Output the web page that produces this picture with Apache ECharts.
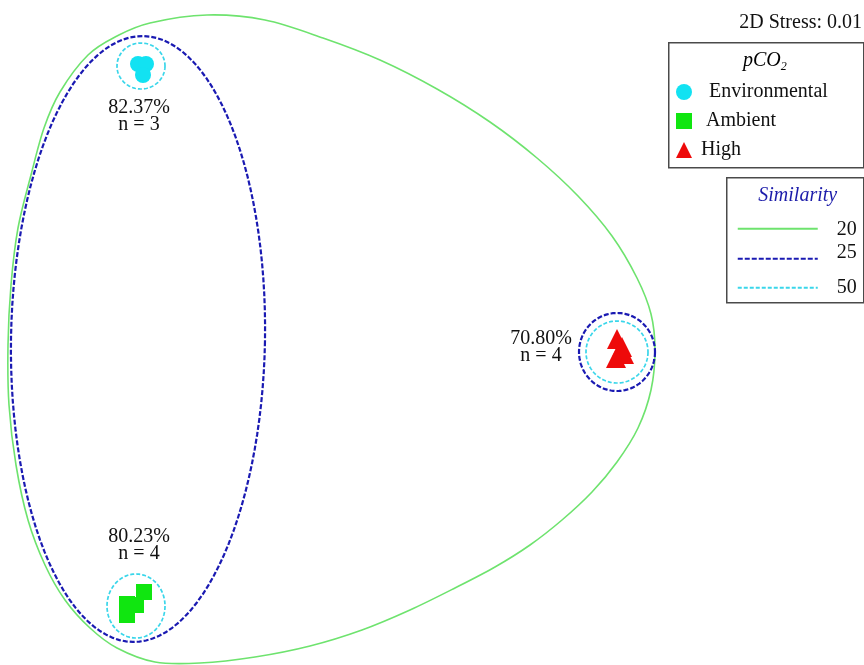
<!DOCTYPE html>
<html>
<head>
<meta charset="utf-8">
<title>nMDS ordination – pCO2 treatments</title>
<script src="https://cdn.jsdelivr.net/npm/echarts@6.0.0/dist/echarts.min.js"></script>
<style>
  html, body { margin: 0; padding: 0; background: #ffffff; }
  #chart { width: 864px; height: 665px; }
</style>
</head>
<body>
<div id="chart"></div>
<script>
// nMDS ordination coordinates (unitless) for each pCO2 treatment
const environmental = [[-1.92, 2.76], [-1.84, 2.76], [-1.87, 2.65]];
const ambient = [[-1.86, -2.52], [-1.94, -2.65], [-2.03, -2.64], [-2.03, -2.75]];
const high = [[2.87, 0.01], [2.92, -0.07], [2.94, -0.14], [2.86, -0.18]];

// Group-average similarity and sample count per treatment cluster
const groupSimilarity = ['82.37%', '80.23%', '70.80%'];
const groupSize = [3, 4, 4];

// 50% similarity contours: centre and radii (x, y) per cluster
const sim50Centers = [[-1.89, 2.74], [-1.94, -2.66], [2.87, -0.12]];
const sim50Radii = [[0.24, 0.23], [0.29, 0.32], [0.31, 0.31]];

// 25% similarity contours: centre, radii and tilt in degrees
const sim25Centers = [[-1.92, 0.01], [2.87, -0.12]];
const sim25Radii = [[1.27, 3.03], [0.38, 0.39]];
const sim25Tilt = [1, 0];

// 20% similarity contour outline (clockwise)
const sim20Outline = [
  [-1.80, 3.17], [-1.23, 3.25], [-0.65, 3.20], [-0.07, 3.02], [0.50, 2.80],
  [1.07, 2.51], [1.60, 2.18], [2.07, 1.82], [2.48, 1.44], [2.82, 1.04],
  [3.07, 0.62], [3.21, 0.26], [3.25, -0.10], [3.21, -0.50], [3.08, -0.88],
  [2.87, -1.22], [2.62, -1.52], [2.32, -1.80], [2.00, -2.05], [1.65, -2.27],
  [1.25, -2.48], [0.80, -2.70], [0.32, -2.90], [-0.20, -3.06], [-0.75, -3.17],
  [-1.30, -3.23], [-1.75, -3.22], [-2.13, -3.08], [-2.40, -2.88], [-2.65, -2.60],
  [-2.85, -2.25], [-3.02, -1.80], [-3.14, -1.25], [-3.21, -0.65], [-3.22, -0.05],
  [-3.19, 0.55], [-3.12, 1.12], [-2.99, 1.65], [-2.86, 2.12], [-2.70, 2.48],
  [-2.42, 2.85], [-2.13, 3.04]
];

const SERIF = 'Liberation Serif, Times New Roman, serif';
const C_GREEN = '#6ee36e';
const C_BLUE = '#1a1ab2';
const C_CYAN = '#3ad6ea';

// ellipse outline in pixel space, mapped from data-space centre and radii
function ellipseItem(api, color, width, dash) {
  const c = api.coord([api.value(0), api.value(1)]);
  const sz = api.size([api.value(2), api.value(3)]);
  const phi = (api.value(4) || 0) * Math.PI / 180;
  const pts = [];
  const n = 120;
  for (let k = 0; k < n; k++) {
    const t = 2 * Math.PI * k / n;
    const ex = sz[0] * Math.cos(t);
    const ey = sz[1] * Math.sin(t);
    pts.push([
      c[0] + ex * Math.cos(phi) - ey * Math.sin(phi),
      c[1] + ex * Math.sin(phi) + ey * Math.cos(phi)
    ]);
  }
  return {
    type: 'polygon',
    shape: { points: pts },
    style: { fill: null, stroke: color, lineWidth: width, lineDash: dash }
  };
}

// closed Catmull-Rom curve through pixel points, as SVG path data
function closedSplinePath(pts) {
  const n = pts.length;
  let d = 'M' + pts[0][0] + ',' + pts[0][1];
  for (let i = 0; i < n; i++) {
    const p0 = pts[(i - 1 + n) % n];
    const p1 = pts[i];
    const p2 = pts[(i + 1) % n];
    const p3 = pts[(i + 2) % n];
    const c1x = p1[0] + (p2[0] - p0[0]) / 6;
    const c1y = p1[1] + (p2[1] - p0[1]) / 6;
    const c2x = p2[0] - (p3[0] - p1[0]) / 6;
    const c2y = p2[1] - (p3[1] - p1[1]) / 6;
    d += 'C' + c1x + ',' + c1y + ',' + c2x + ',' + c2y + ',' + p2[0] + ',' + p2[1];
  }
  return d + 'Z';
}

// pixel offsets of each cluster's annotation from its 50% contour centre
const labelOffsets = [[-2, 50], [3, -61], [-76, -5]];

const chart = echarts.init(document.getElementById('chart'), null, { renderer: 'canvas' });

const option = {
  backgroundColor: '#ffffff',
  animation: false,
  grid: { left: 0, right: 0, top: 0, bottom: 0 },
  xAxis: { type: 'value', min: -3.3, max: 5.34, show: false },
  yAxis: { type: 'value', min: -3.25, max: 3.4, show: false },
  legend: {
    orient: 'vertical',
    left: 676,
    top: 82,
    padding: 0,
    itemWidth: 16,
    itemHeight: 16,
    itemGap: 9,
    selectedMode: false,
    textStyle: { fontFamily: SERIF, fontSize: 20, color: '#111' },
    data: [
      { name: 'Environmental', icon: 'circle', textStyle: { padding: [0, 0, 0, 12] } },
      { name: 'Ambient', icon: 'rect', textStyle: { padding: [0, 0, 0, 9] } },
      { name: 'High', icon: 'triangle', textStyle: { padding: [0, 0, 0, 4] } }
    ]
  },
  graphic: [
    // stress value
    {
      type: 'text', right: 2, top: 13,
      style: { text: '2D Stress: 0.01', font: '20px ' + SERIF, fill: '#111' }
    },
    // treatment legend frame and title
    {
      type: 'rect', left: 668, top: 42, z: -1,
      shape: { width: 195, height: 125 },
      style: { fill: '#fff', stroke: '#4a4a4a', lineWidth: 1.5 }
    },
    {
      type: 'text', left: 743, top: 51,
      style: {
        text: '{a|pCO}{b|2}',
        rich: {
          a: { fontFamily: SERIF, fontStyle: 'italic', fontSize: 20, color: '#1c1caa' },
          b: { fontFamily: SERIF, fontStyle: 'italic', fontSize: 12, color: '#1c1caa', padding: [12, 0, 0, 0] }
        }
      }
    },
    // similarity legend
    {
      type: 'group', left: 726, top: 177,
      children: [
        {
          type: 'rect', shape: { x: 0, y: 0, width: 137, height: 125 },
          style: { fill: '#fff', stroke: '#4a4a4a', lineWidth: 1.5 }
        },
        {
          type: 'text', x: 71, y: 18,
          style: {
            text: 'Similarity', font: 'italic 20px ' + SERIF, fill: '#1c1caa',
            align: 'center', verticalAlign: 'middle'
          }
        },
        {
          type: 'line', shape: { x1: 11, y1: 51, x2: 91, y2: 51 },
          style: { stroke: C_GREEN, lineWidth: 2 }
        },
        {
          type: 'line', shape: { x1: 11, y1: 81, x2: 91, y2: 81 },
          style: { stroke: C_BLUE, lineWidth: 2.2, lineDash: [5, 2] }
        },
        {
          type: 'line', shape: { x1: 11, y1: 110, x2: 91, y2: 110 },
          style: { stroke: C_CYAN, lineWidth: 1.8, lineDash: [4, 2] }
        },
        {
          type: 'text', x: 130, y: 52,
          style: { text: '20', font: '20px ' + SERIF, fill: '#111', align: 'right', verticalAlign: 'middle' }
        },
        {
          type: 'text', x: 130, y: 75,
          style: { text: '25', font: '20px ' + SERIF, fill: '#111', align: 'right', verticalAlign: 'middle' }
        },
        {
          type: 'text', x: 130, y: 110,
          style: { text: '50', font: '20px ' + SERIF, fill: '#111', align: 'right', verticalAlign: 'middle' }
        }
      ]
    }
  ],
  series: [
    {
      name: 'sim20',
      type: 'custom',
      silent: true,
      z: 1,
      data: [sim20Outline[0]],
      renderItem: function (params, api) {
        const pts = sim20Outline.map(function (p) { return api.coord(p); });
        return {
          type: 'path',
          shape: { pathData: closedSplinePath(pts) },
          style: { fill: null, stroke: C_GREEN, lineWidth: 1.6 }
        };
      }
    },
    {
      name: 'sim25',
      type: 'custom',
      silent: true,
      z: 2,
      data: sim25Centers.map(function (c, i) {
        return [c[0], c[1], sim25Radii[i][0], sim25Radii[i][1], sim25Tilt[i]];
      }),
      renderItem: function (params, api) {
        return ellipseItem(api, C_BLUE, 2.2, [5, 2]);
      }
    },
    {
      name: 'sim50',
      type: 'custom',
      silent: true,
      z: 3,
      data: sim50Centers.map(function (c, i) {
        return [c[0], c[1], sim50Radii[i][0], sim50Radii[i][1], 0];
      }),
      renderItem: function (params, api) {
        return ellipseItem(api, C_CYAN, 1.7, [4, 2]);
      }
    },
    {
      name: 'clusterLabels',
      type: 'custom',
      silent: true,
      z: 4,
      data: sim50Centers.map(function (c, i) { return [c[0], c[1], i]; }),
      renderItem: function (params, api) {
        const i = api.value(2);
        const p = api.coord([api.value(0), api.value(1)]);
        const off = labelOffsets[i];
        return {
          type: 'text',
          x: p[0] + off[0],
          y: p[1] + off[1],
          style: {
            text: groupSimilarity[i] + '\nn = ' + groupSize[i],
            fontFamily: SERIF,
            fontSize: 20,
            lineHeight: 17,
            fill: '#111',
            align: 'center',
            verticalAlign: 'middle'
          }
        };
      }
    },
    {
      name: 'Environmental',
      type: 'scatter',
      z: 5,
      symbol: 'circle',
      symbolSize: 16,
      itemStyle: { color: '#12e2f2', opacity: 1 },
      data: environmental
    },
    {
      name: 'Ambient',
      type: 'scatter',
      z: 5,
      symbol: 'rect',
      symbolSize: 16,
      itemStyle: { color: '#10e610', opacity: 1 },
      data: ambient
    },
    {
      name: 'High',
      type: 'scatter',
      z: 5,
      symbol: 'triangle',
      symbolSize: 20,
      itemStyle: { color: '#ee0a0a', opacity: 1 },
      data: high
    }
  ]
};

chart.setOption(option);
</script>
</body>
</html>
